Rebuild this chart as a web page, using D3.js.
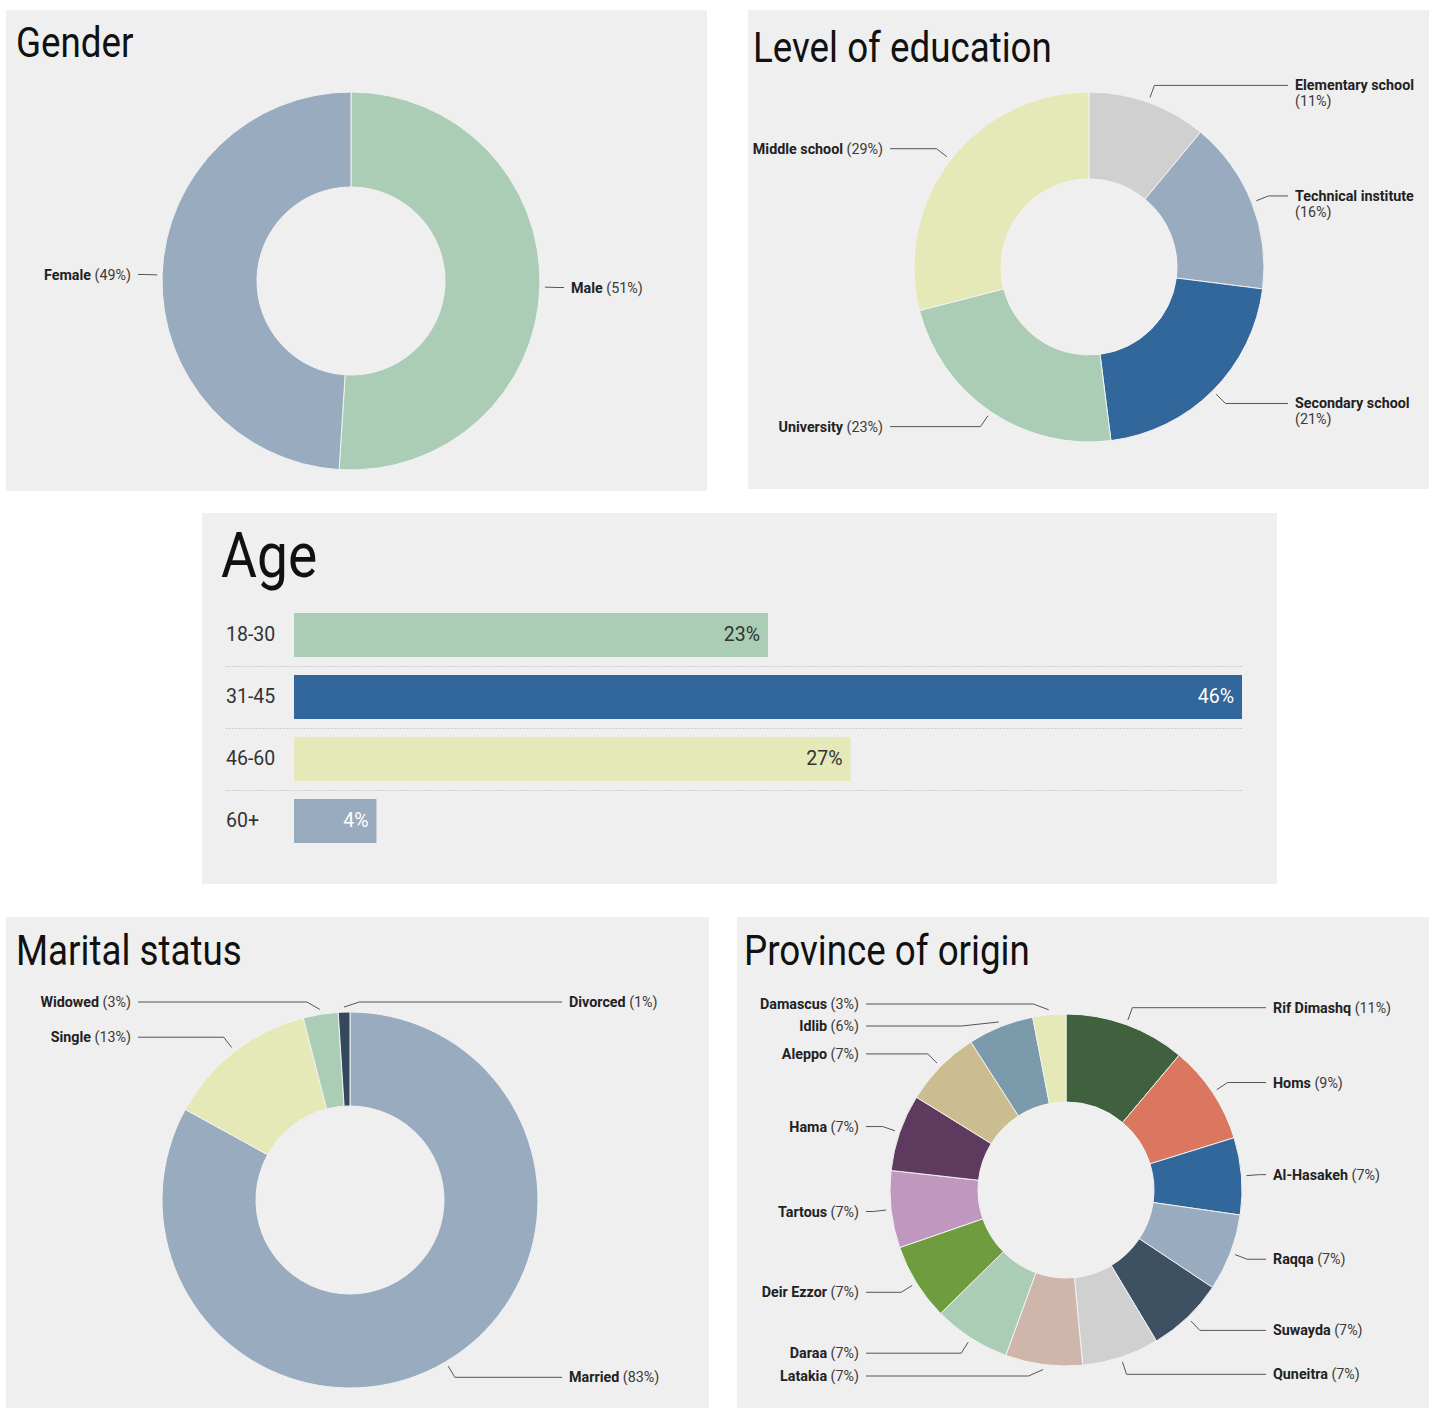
<!DOCTYPE html>
<html>
<head>
<meta charset="utf-8">
<script src="https://cdn.jsdelivr.net/npm/d3@7"></script>
<style>
body { margin: 0; background: #fff; }
text { font-family: Roboto, "Noto Sans", sans-serif; }
</style>
</head>
<body>
<script>
// data
const genderNames = ["Male", "Female"];
const genderValues = [51, 49];
const genderColors = ["#abcdb5", "#99abbe"];

const eduNames = ["Elementary school", "Technical institute", "Secondary school", "University", "Middle school"];
const eduValues = [11, 16, 21, 23, 29];
const eduColors = ["#d0d0d0", "#99abbe", "#31679a", "#abcdb5", "#e5e8b7"];

const ageGroups = ["18-30", "31-45", "46-60", "60+"];
const ageValues = [23, 46, 27, 4];
const ageColors = ["#abcdb5", "#31679a", "#e5e8b7", "#99abbe"];

const maritalNames = ["Married", "Single", "Widowed", "Divorced"];
const maritalValues = [83, 13, 3, 1];
const maritalColors = ["#99abbe", "#e5e8b7", "#abcdb5", "#34495e"];

const provinceNames = ["Rif Dimashq", "Homs", "Al-Hasakeh", "Raqqa", "Suwayda", "Quneitra", "Latakia",
  "Daraa", "Deir Ezzor", "Tartous", "Hama", "Aleppo", "Idlib", "Damascus"];
const provinceValues = [11, 9, 7, 7, 7, 7, 7, 7, 7, 7, 7, 7, 6, 3];
const provinceColors = ["#3f613d", "#db775e", "#31679a", "#99abbe", "#3d5163", "#d0d0d0", "#cfb6ab",
  "#abcdb5", "#6e9c3e", "#bf97bf", "#5e3b5e", "#cbbd8f", "#7b9bad", "#e5e8b7"];

const W = 1429, H = 1408;
const svg = d3.select("body").append("svg").attr("width", W).attr("height", H);

function panel(x, y, w, h, title, size, tx, ty) {
  svg.append("rect").attr("x", x).attr("y", y).attr("width", w).attr("height", h).attr("fill", "#efefef");
  svg.append("text")
    .attr("transform", `translate(${tx},${ty}) scale(0.875,1)`)
    .attr("font-size", size)
    .attr("fill", "#111")
    .text(title);
}

function donut(cx, cy, r, r0, names, values, colors, px0, px1) {
  const pie = d3.pie().sort(null).value(d => d)(values);
  const arc = d3.arc().innerRadius(r0).outerRadius(r);
  const g = svg.append("g").attr("transform", `translate(${cx},${cy})`);

  g.selectAll("path.slice")
    .data(pie)
    .enter()
    .append("path")
    .attr("class", "slice")
    .attr("d", arc)
    .attr("fill", (d, i) => colors[i])
    .attr("stroke", "#f2f2f2")
    .attr("stroke-width", 1);

  const labels = pie.map((d, i) => {
    const a = (d.startAngle + d.endAngle) / 2;
    const bx = Math.sin(a) * (r + 18), by = -Math.cos(a) * (r + 18);
    return { i, a, bx, by, y: by, side: bx > -10 ? 1 : -1, value: d.data };
  });

  // texts first, to know if they wrap
  labels.forEach(l => {
    const t = g.append("text")
      .attr("font-size", 14.3)
      .attr("text-anchor", l.side > 0 ? "start" : "end");
    t.append("tspan").attr("font-weight", 700).attr("fill", "#222").text(names[l.i]);
    const p = t.append("tspan").attr("fill", "#3a3a3a").text(" (" + l.value + "%)");
    const tx = cx + l.side * (r + 31);
    const room = l.side > 0 ? px1 - tx - 3 : tx - px0 - 3;
    l.lines = 1;
    if (t.node().getComputedTextLength() > room) {
      p.text("(" + l.value + "%)").attr("x", l.side * (r + 31)).attr("dy", 16);
      l.lines = 2;
    }
    l.text = t;
  });

  // push labels apart on each side
  [1, -1].forEach(s => {
    const L = labels.filter(l => l.side === s).sort((a, b) => a.by - b.by);
    const top = -r - 10, bot = r + 10;
    L.forEach((l, k) => {
      l.y = Math.max(l.by, top, k ? L[k - 1].y + 6 + 16 * L[k - 1].lines : top);
    });
    for (let k = L.length - 1; k >= 0; k--) {
      const l = L[k];
      l.y = Math.min(l.y, bot, k < L.length - 1 ? L[k + 1].y - 6 - 16 * l.lines : bot);
    }
  });

  labels.forEach(l => {
    const sx = Math.sin(l.a) * (r + 5), sy = -Math.cos(l.a) * (r + 5);
    const kx = l.bx + l.side * Math.min(2 * Math.abs(l.y - l.by), 35);
    const ex = l.side * (r + 24);
    g.append("path")
      .attr("d", d3.line()([[sx, sy], [kx, l.y], [ex, l.y]]))
      .attr("fill", "none")
      .attr("stroke", "#555")
      .attr("stroke-width", 1);
    l.text.attr("x", l.side * (r + 31)).attr("y", l.y).attr("dy", "0.35em");
    l.text.select("tspan").attr("x", l.side * (r + 31));
  });
}

// Gender
panel(6, 10, 701, 481, "Gender", 42, 16, 57);
donut(351, 281, 189, 94, genderNames, genderValues, genderColors, 6, 707);

// Level of education
panel(748, 10, 681, 479, "Level of education", 42, 753, 62);
donut(1089, 267, 175, 88, eduNames, eduValues, eduColors, 748, 1429);

// Age
panel(202, 513, 1075, 371, "Age", 63, 221, 577);

const x = d3.scaleLinear().domain([0, d3.max(ageValues)]).range([294, 1242]);
const y = d3.scaleBand().domain(ageGroups).range([604, 852]).paddingInner(18 / 62).paddingOuter(9 / 62);

svg.selectAll("line.sep")
  .data(ageGroups.slice(0, -1))
  .enter()
  .append("line")
  .attr("class", "sep")
  .attr("x1", 226).attr("x2", 1242)
  .attr("y1", d => y(d) + y.bandwidth() + 9.5)
  .attr("y2", d => y(d) + y.bandwidth() + 9.5)
  .attr("stroke", "#cfcfcf")
  .attr("stroke-dasharray", "2,1");

svg.selectAll("rect.bar")
  .data(ageValues)
  .enter()
  .append("rect")
  .attr("class", "bar")
  .attr("x", x(0))
  .attr("y", (d, i) => y(ageGroups[i]))
  .attr("width", d => x(d) - x(0))
  .attr("height", y.bandwidth())
  .attr("fill", (d, i) => ageColors[i]);

svg.selectAll("text.cat")
  .data(ageGroups)
  .enter()
  .append("text")
  .attr("class", "cat")
  .attr("x", 226)
  .attr("y", d => y(d) + y.bandwidth() / 2)
  .attr("dy", "0.33em")
  .attr("font-size", 19.5)
  .attr("fill", "#333")
  .text(d => d);

svg.selectAll("text.val")
  .data(ageValues)
  .enter()
  .append("text")
  .attr("class", "val")
  .attr("x", d => x(d) - 8)
  .attr("y", (d, i) => y(ageGroups[i]) + y.bandwidth() / 2)
  .attr("dy", "0.33em")
  .attr("text-anchor", "end")
  .attr("font-size", 19.5)
  .attr("fill", (d, i) => d3.lab(ageColors[i]).l < 72 ? "#fff" : "#333")
  .text(d => d + "%");

// Marital status
panel(6, 917, 703, 491, "Marital status", 42, 16, 965);
donut(350, 1200, 188, 94, maritalNames, maritalValues, maritalColors, 6, 709);

// Province of origin
panel(737, 917, 692, 491, "Province of origin", 42, 744, 965);
donut(1066, 1190, 176, 88, provinceNames, provinceValues, provinceColors, 737, 1429);
</script>
</body>
</html>
